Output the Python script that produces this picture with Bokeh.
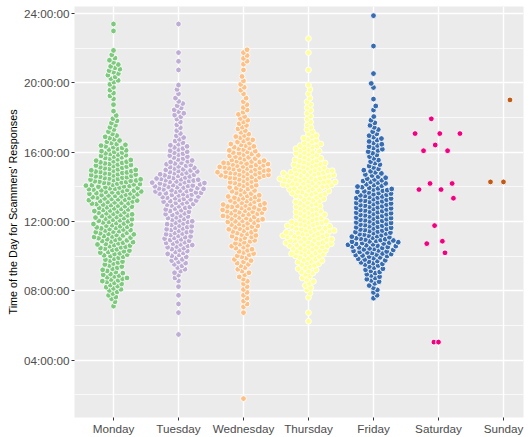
import math
import numpy as np
from bokeh.plotting import figure
from bokeh.models import Range1d, FixedTicker, ColumnDataSource
from bokeh.embed import file_html
from bokeh.resources import INLINE

# ---------------- data ----------------
days = ["Monday", "Tuesday", "Wednesday", "Thursday", "Friday", "Saturday", "Sunday"]
colors = ["#7FC97F", "#BEAED4", "#FDC086", "#FFFF99", "#386CB0", "#F0027F", "#BF5B17"]

# half-hour bins starting at 06:00 (32 bins up to 22:00): number of responses per bin
bin_start = 6.0
bin_width = 0.5
monday_counts = [0, 0, 2, 5, 8, 11, 8, 9, 13, 15, 16, 16, 16, 16, 20, 22,
                 22, 20, 16, 13, 11, 7, 4, 4, 2, 1, 3, 3, 5, 6, 4, 2]
tuesday_counts = [0, 1, 1, 1, 1, 3, 5, 7, 9, 12, 12, 12, 11, 11, 15, 20,
                  21, 16, 12, 9, 8, 5, 3, 3, 5, 4, 2, 2, 0, 1, 1, 1]
wednesday_counts = [0, 1, 3, 3, 3, 4, 5, 7, 8, 9, 11, 13, 16, 18, 15, 11,
                    12, 22, 21, 13, 11, 8, 5, 5, 4, 3, 2, 3, 2, 1, 3, 3]
thursday_counts = [1, 1, 0, 2, 4, 5, 8, 11, 15, 19, 20, 18, 13, 12, 12, 16,
                   23, 21, 15, 11, 11, 7, 4, 3, 3, 3, 2, 2, 0, 1, 0, 1]
friday_counts = [0, 0, 0, 3, 4, 7, 8, 12, 17, 20, 17, 16, 16, 16, 16, 15,
                 11, 8, 6, 5, 7, 6, 4, 0, 0, 0, 0, 0, 0, 0, 0, 0]

# isolated responses outside the binned range (hours)
monday_single = [23.0, 23.4]
tuesday_single = [5.49, 23.4]
wednesday_single = [1.79]
thursday_single = [22.56]
friday_single = [17.55, 17.7, 17.85, 18.06, 18.44, 18.67, 19.07, 19.74,
                 19.97, 20.54, 22.13, 23.88]

saturday_times = [17.93, 17.08, 17.08, 17.08, 16.42, 16.09, 16.09, 14.2, 14.2,
                  13.85, 13.85, 13.35, 11.77, 10.73, 10.87, 10.2, 5.05, 5.05]
saturday_jitter = [-0.11, -0.36, 0.02, 0.33, -0.05, -0.23, 0.14, -0.13, 0.21,
                   -0.30, 0.04, 0.23, -0.06, -0.18, 0.06, 0.10, -0.07, 0.0]
sunday_times = [14.29, 14.29, 19.02]
sunday_jitter = [-0.2, 0.0, 0.1]

y_ticks = [4, 8, 12, 16, 20, 24]
y_tick_labels = ["04:00:00", "08:00:00", "12:00:00", "16:00:00", "20:00:00", "24:00:00"]
y_minor = [2, 6, 10, 14, 18, 22]

# ---------------- layout ----------------
W, H = 529, 437
LEFT, RIGHT, TOP, BOTTOM = 74, 6, 6, 19
X0, X1 = 0.4, 7.308
Y0, Y1 = 0.70, 24.41
PX_PER_X = (W - LEFT - RIGHT) / (X1 - X0)
PX_PER_H = (H - TOP - BOTTOM) / (Y1 - Y0)
DOT = 4.6   # spacing between dot centres in px
SIZE = 5.8  # drawn dot diameter in px


def expand(counts, singles):
    t = []
    for i, n in enumerate(counts):
        s = bin_start + i * bin_width
        for k in range(n):
            t.append(s + (k + 0.5) * bin_width / n)
    return t + list(singles)


def swarm(times):
    ys = np.asarray(times) * PX_PER_H
    order = np.argsort(ys, kind="stable")
    px, py = [], []
    xs = np.zeros(len(ys))
    flip = 1
    for idx in order:
        y = ys[idx]
        near = [(a, b) for a, b in zip(px, py) if abs(b - y) < DOT]
        cands = [0.0]
        for a, b in near:
            dx = math.sqrt(DOT * DOT - (b - y) ** 2)
            cands += [a + dx, a - dx]
        cands.sort(key=lambda c: (round(abs(c), 4), flip * c))
        x = 0.0
        for c in cands:
            if all((c - a) ** 2 + (y - b) ** 2 >= DOT * DOT - 1e-6 for a, b in near):
                x = c
                break
        flip = -flip
        xs[idx] = x
        px.append(x)
        py.append(y)
    return xs / PX_PER_X


p = figure(width=W, height=H, output_backend="svg", toolbar_location=None,
           x_range=Range1d(X0, X1), y_range=Range1d(Y0, Y1),
           min_border_left=LEFT, min_border_right=RIGHT,
           min_border_top=TOP, min_border_bottom=BOTTOM)
p.background_fill_color = "#EBEBEB"
p.border_fill_color = "white"
p.outline_line_color = None

p.xaxis.ticker = FixedTicker(ticks=list(range(1, 8)), minor_ticks=[])
p.xaxis.major_label_overrides = {i + 1: d for i, d in enumerate(days)}
p.yaxis.ticker = FixedTicker(ticks=y_ticks, minor_ticks=y_minor)
p.yaxis.major_label_overrides = {t: l for t, l in zip(y_ticks, y_tick_labels)}

for ax in (p.xaxis[0], p.yaxis[0]):
    ax.axis_line_color = None
    ax.major_tick_line_color = "#333333"
    ax.major_tick_out = 3
    ax.major_tick_in = 0
    ax.minor_tick_line_color = None
    ax.major_label_text_color = "#4D4D4D"
    ax.major_label_text_font = "Liberation Sans"
    ax.major_label_text_font_size = "11.7px"
    ax.major_label_standoff = 1

p.yaxis.axis_label = "Time of the Day for Scammers' Responses"
p.yaxis.axis_label_text_font = "Liberation Sans"
p.yaxis.axis_label_text_font_size = "10.8px"
p.yaxis.axis_label_text_font_style = "normal"
p.yaxis.axis_label_text_color = "black"
p.yaxis.axis_label_standoff = 2

p.xgrid.grid_line_color = "white"
p.xgrid.grid_line_width = 1.4
p.ygrid.grid_line_color = "white"
p.ygrid.grid_line_width = 1.4
p.ygrid.minor_grid_line_color = "white"
p.ygrid.minor_grid_line_width = 0.7

binned = [(monday_counts, monday_single), (tuesday_counts, tuesday_single),
          (wednesday_counts, wednesday_single), (thursday_counts, thursday_single),
          (friday_counts, friday_single)]

for i, (cnt, single) in enumerate(binned):
    t = expand(cnt, single)
    off = swarm(t)
    src = ColumnDataSource(dict(x=(i + 1) + off, y=t))
    p.scatter("x", "y", source=src, size=SIZE, fill_color=colors[i],
              line_color="white", line_width=0.9)

for i, (t, j) in enumerate([(saturday_times, saturday_jitter), (sunday_times, sunday_jitter)]):
    src = ColumnDataSource(dict(x=[6 + i + v for v in j], y=t))
    p.scatter("x", "y", source=src, size=SIZE, fill_color=colors[5 + i],
              line_color="white", line_width=0.9)

open("out.html", "w").write(file_html(p, INLINE))
